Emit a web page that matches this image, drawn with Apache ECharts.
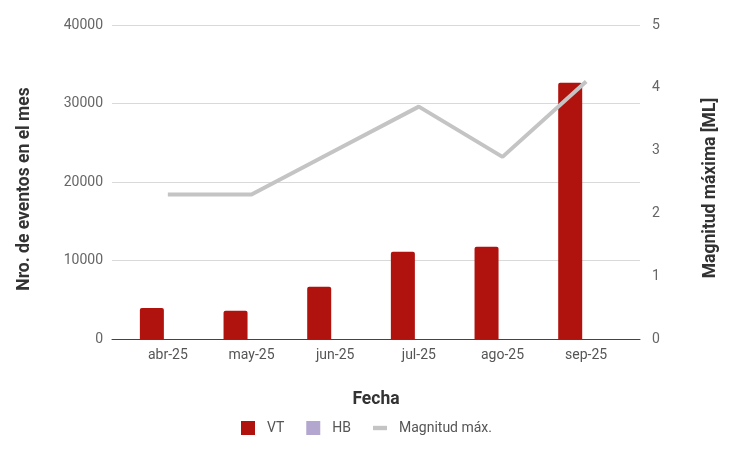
<!DOCTYPE html>
<html><head><meta charset="utf-8">
<script src="https://cdn.jsdelivr.net/npm/echarts@6/dist/echarts.min.js"></script>
<style>html,body{margin:0;padding:0;background:#fff}#c{width:743px;height:453px}</style>
</head><body><div id="c"></div>
<script>
const categories = ['abr-25','may-25','jun-25','jul-25','ago-25','sep-25'];
const vtValues = [3950, 3600, 6650, 11100, 11750, 32650];
const hbValues = [0, 0, 0, 0, 0, 0];
const magValues = [2.3, 2.3, 3.0, 3.7, 2.9, 4.1];

const font = 'Roboto';
const titleStyle = {fill: '#333', fontSize: 17.5, fontWeight: 'bold', fontFamily: font, align: 'center', verticalAlign: 'middle'};
const chart = echarts.init(document.getElementById('c'), null, {renderer:'canvas'});
chart.setOption({
  animation: false,
  textStyle: {fontFamily: font},
  grid: [
    {left: 112, right: 103, top: 25, bottom: 114},
    {left: 126, right: 115, top: 25, bottom: 114}
  ],
  graphic: [
    {type: 'text', x: 25, y: 189, rotation: Math.PI / 2, style: Object.assign({text: 'Nro. de eventos en el mes'}, titleStyle)},
    {type: 'text', x: 711, y: 188, rotation: Math.PI / 2, style: Object.assign({text: 'Magnitud máxima [ML]'}, titleStyle)}
  ],
  legend: {
    top: 421, left: 241, padding: 0, itemWidth: 14, itemHeight: 14, itemGap: 22,
    textStyle: {color: '#555', fontSize: 14, fontFamily: font, padding: [0,0,0,7]},
    data: [
      {name: 'VT', icon: 'rect', itemStyle: {color: '#b0120e'}},
      {name: 'HB', icon: 'rect', itemStyle: {color: '#b3a7cf'}},
      {name: 'Magnitud máx.', icon: 'path://M0,0h16v5h-16z', itemStyle: {color: '#c4c4c4'}}
    ]
  },
  xAxis: [
    {gridIndex: 0, type: 'category', data: categories, show: true,
     axisLine: {show: true, lineStyle: {color: '#444', width: 1}},
     axisTick: {show: false}, axisLabel: {show: false}, splitLine: {show: false},
     name: 'Fecha', nameLocation: 'middle', nameGap: 52,
     nameTextStyle: {color: '#333', fontSize: 17.5, fontWeight: 'bold', fontFamily: font}},
    {gridIndex: 1, type: 'category', data: categories,
     axisLine: {show: false}, axisTick: {show: false},
     axisLabel: {color: '#555', fontSize: 14, margin: 9, fontFamily: font}}
  ],
  yAxis: [
    {gridIndex: 0, type: 'value', min: 0, max: 40000, interval: 10000,
     axisLine: {show: false}, axisTick: {show: false},
     axisLabel: {color: '#666', fontSize: 14, margin: 9, fontFamily: font, formatter: v => String(v)},
     splitLine: {lineStyle: {color: '#d9d9d9', width: 1}}},
    {gridIndex: 0, type: 'value', position: 'right', min: 0, max: 5, interval: 1,
     axisLine: {show: false}, axisTick: {show: false}, splitLine: {show: false},
     axisLabel: {color: '#666', fontSize: 14, margin: 12, fontFamily: font}},
    {gridIndex: 1, type: 'value', min: 0, max: 40000, interval: 10000, show: false, splitLine: {show: false}},
    {gridIndex: 1, type: 'value', min: 0, max: 5, interval: 1, show: false, splitLine: {show: false}}
  ],
  series: [
    {name: 'VT', type: 'bar', xAxisIndex: 1, yAxisIndex: 2, data: vtValues,
     barWidth: 24, barGap: '33%', itemStyle: {color: '#b0120e', borderRadius: [2,2,0,0]}},
    {name: 'HB', type: 'bar', xAxisIndex: 1, yAxisIndex: 2, data: hbValues,
     barWidth: 24, itemStyle: {color: '#b3a7cf'}},
    {name: 'Magnitud máx.', type: 'line', xAxisIndex: 1, yAxisIndex: 3, data: magValues,
     symbol: 'none', lineStyle: {color: '#c4c4c4', width: 4}, itemStyle: {color: '#c4c4c4'}, z: 3}
  ]
});
</script></body></html>
